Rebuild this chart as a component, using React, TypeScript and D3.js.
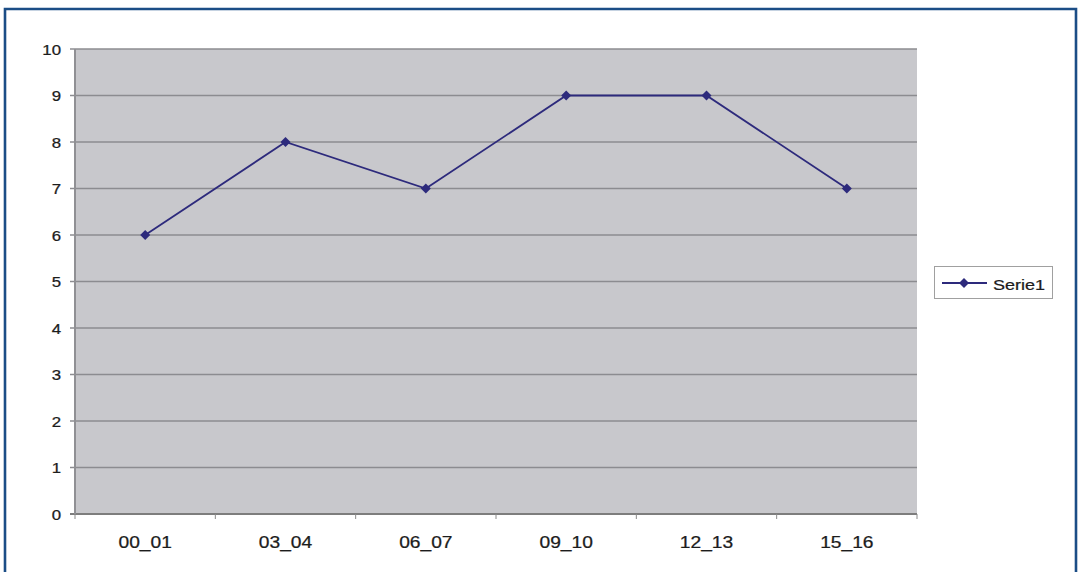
import React from "react";
import * as d3 from "d3";

const categories = ["00_01", "03_04", "06_07", "09_10", "12_13", "15_16"];
const serie1 = [6, 8, 7, 9, 9, 7];
const yTicks = [0, 1, 2, 3, 4, 5, 6, 7, 8, 9, 10];
const seriesName = "Serie1";

const W = 1079;
const H = 572;
const plot = { left: 75, right: 917, top: 49, bottom: 514 };
const lineColor = "#2d2a7c";
const font = "Arial, 'Liberation Sans', sans-serif";
const textColor = "#1c1c1c";
const stretch = 1.2;

function Diamond({ x, y, r }: { x: number; y: number; r: number }) {
  return (
    <path
      d={`M${x},${y - r}L${x + r},${y}L${x},${y + r}L${x - r},${y}Z`}
      fill={lineColor}
    />
  );
}

function Label({
  x,
  y,
  size,
  anchor,
  children,
}: {
  x: number;
  y: number;
  size: number;
  anchor: "start" | "middle" | "end";
  children: React.ReactNode;
}) {
  return (
    <text
      transform={`translate(${x},${y}) scale(${stretch},1)`}
      textAnchor={anchor}
      fontFamily={font}
      fontSize={size}
      fill={textColor}
      stroke={textColor}
      strokeWidth={0.25}
    >
      {children}
    </text>
  );
}

export default function App() {
  const x = d3
    .scaleBand<string>()
    .domain(categories)
    .range([plot.left, plot.right])
    .padding(0);
  const y = d3.scaleLinear().domain([0, 10]).range([plot.bottom, plot.top]);
  const cx = (c: string) => (x(c) as number) + x.bandwidth() / 2;

  const line = d3
    .line<number>()
    .x((_, i) => cx(categories[i]))
    .y((d) => y(d));

  const boundaries = categories.map((c) => x(c) as number).concat([plot.right]);

  return (
    <svg
      width={W}
      height={H}
      style={{ position: "absolute", left: 0, top: 0, display: "block" }}
    >
      <rect x={0} y={0} width={W} height={H} fill="#ffffff" />
      {/* frame */}
      <path
        d={`M5,${H}L5,9L1076,9L1076,${H}`}
        fill="none"
        stroke="#1b4d86"
        strokeWidth={2.6}
      />
      {/* plot area */}
      <rect
        x={plot.left}
        y={plot.top}
        width={plot.right - plot.left}
        height={plot.bottom - plot.top}
        fill="#c8c8cc"
      />
      {/* gridlines */}
      {yTicks.map((t) => (
        <line
          key={t}
          x1={plot.left - 5}
          x2={plot.right}
          y1={y(t)}
          y2={y(t)}
          stroke={t === 0 ? "#7d7d7d" : "#8c8c90"}
          strokeWidth={t === 0 ? 2 : 1.3}
        />
      ))}
      {/* y axis line */}
      <line
        x1={plot.left}
        x2={plot.left}
        y1={plot.top}
        y2={plot.bottom}
        stroke="#909094"
        strokeWidth={2}
      />
      {/* category ticks */}
      {boundaries.map((b, i) => (
        <line
          key={i}
          x1={b}
          x2={b}
          y1={plot.bottom}
          y2={plot.bottom + 5}
          stroke="#8a8a8a"
          strokeWidth={1}
        />
      ))}
      {/* y labels */}
      {yTicks.map((t) => (
        <Label key={t} x={61} y={y(t) + 5.5} size={14} anchor="end">
          {t}
        </Label>
      ))}
      {/* x labels */}
      {categories.map((c) => (
        <Label key={c} x={cx(c)} y={548} size={16} anchor="middle">
          {c}
        </Label>
      ))}
      {/* series */}
      <path
        d={line(serie1) || ""}
        fill="none"
        stroke={lineColor}
        strokeWidth={1.8}
      />
      {serie1.map((v, i) => (
        <Diamond key={i} x={cx(categories[i])} y={y(v)} r={5} />
      ))}
      {/* legend */}
      <rect
        x={934.5}
        y={266.5}
        width={118}
        height={32}
        fill="#ffffff"
        stroke="#a0a0a0"
        strokeWidth={1}
      />
      <line
        x1={942}
        x2={987}
        y1={283}
        y2={283}
        stroke={lineColor}
        strokeWidth={1.8}
      />
      <Diamond x={964} y={283} r={5} />
      <Label x={993} y={290} size={15} anchor="start">
        {seriesName}
      </Label>
    </svg>
  );
}
